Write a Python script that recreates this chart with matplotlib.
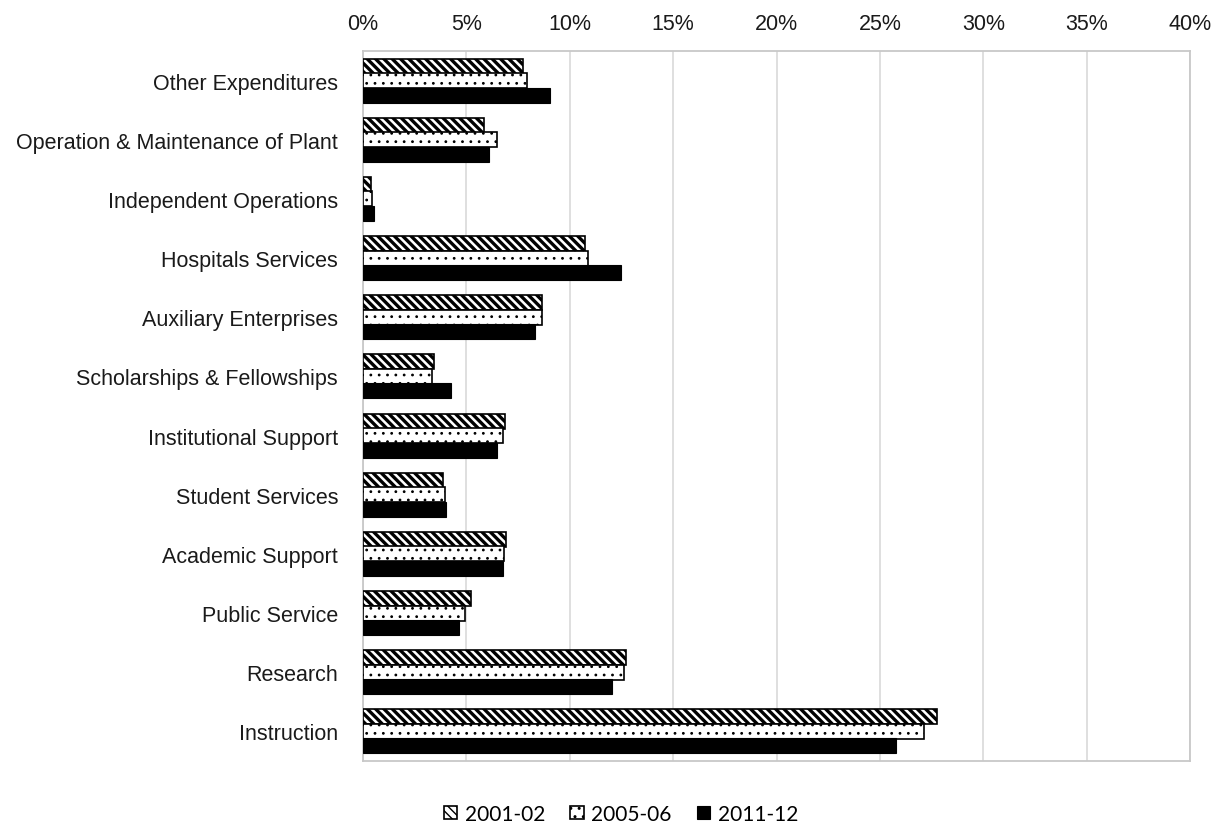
import numpy as np
import matplotlib
matplotlib.use("Agg")
import matplotlib.pyplot as plt
from matplotlib.ticker import PercentFormatter, MultipleLocator

# Share of total expenditures by function (percent), listed top to bottom
categories = [
    "Other Expenditures",
    "Operation & Maintenance of Plant",
    "Independent Operations",
    "Hospitals Services",
    "Auxiliary Enterprises",
    "Scholarships & Fellowships",
    "Institutional Support",
    "Student Services",
    "Academic Support",
    "Public Service",
    "Research",
    "Instruction",
]
years = ["2001-02", "2005-06", "2011-12"]
share_2001 = [7.73, 5.85, 0.37, 10.72, 8.68, 3.45, 6.88, 3.85, 6.90, 5.22, 12.74, 27.75]
share_2005 = [7.92, 6.49, 0.43, 10.90, 8.65, 3.35, 6.75, 3.98, 6.81, 4.93, 12.63, 27.15]
share_2011 = [9.05, 6.10, 0.53, 12.46, 8.31, 4.25, 6.46, 4.00, 6.76, 4.63, 12.06, 25.77]

label_font = ["Liberation Sans", "DejaVu Sans"]
legend_font = ["Lato", "DejaVu Sans"]

fig = plt.figure(figsize=(12.3, 8.29), dpi=100)
ax = fig.add_axes([363 / 1230, 1 - 762 / 829, (1190 - 363) / 1230, (762 - 52) / 829])

y = np.arange(len(categories))
h = 0.255
step = 0.245

styles = [
    dict(facecolor="white", edgecolor="black", hatch="\\\\\\\\", linewidth=1.2, hlw=2.4),
    dict(facecolor="white", edgecolor="black", hatch="..", linewidth=1.2, hlw=0.8),
    dict(facecolor="black", edgecolor="black", hatch=None, linewidth=0.8, hlw=1.0),
]
series = [share_2001, share_2005, share_2011]

for i, (vals, st) in enumerate(zip(series, styles)):
    plt.rcParams["hatch.linewidth"] = st["hlw"]
    bars = ax.barh(y + (i - 1) * step, vals, height=h, color=st["facecolor"],
                   edgecolor=st["edgecolor"], hatch=st["hatch"],
                   linewidth=st["linewidth"], label=years[i], zorder=3)
    for b in bars:
        if hasattr(b, "set_hatch_linewidth"):
            b.set_hatch_linewidth(st["hlw"])

ax.set_xlim(0, 40)
ax.set_ylim(len(categories) - 0.5, -0.5)
ax.xaxis.set_major_locator(MultipleLocator(5))
ax.xaxis.set_major_formatter(PercentFormatter(100, decimals=0))
ax.xaxis.tick_top()
ax.set_yticks(y)
ax.set_yticklabels(categories)

ax.tick_params(axis="x", length=0, pad=12, labelsize=15.5, colors="#1a1a1a")
ax.tick_params(axis="y", length=0, pad=18, labelsize=15.5, colors="#1a1a1a")
for lab in ax.get_xticklabels() + ax.get_yticklabels():
    lab.set_family(label_font)

ax.grid(axis="x", color="#d9d9d9", linewidth=1.2, zorder=0)
ax.set_axisbelow(True)
for side, sp in ax.spines.items():
    sp.set_color("#c8c8c8")
    sp.set_linewidth(1.3)

fig.legend(loc="center", bbox_to_anchor=(0.505, 0.017), ncol=3, frameon=False,
           prop={"family": legend_font, "size": 15},
           handlelength=0.63, handleheight=0.63, handletextpad=0.38,
           columnspacing=1.2)

fig.savefig("out.png", dpi=100)
